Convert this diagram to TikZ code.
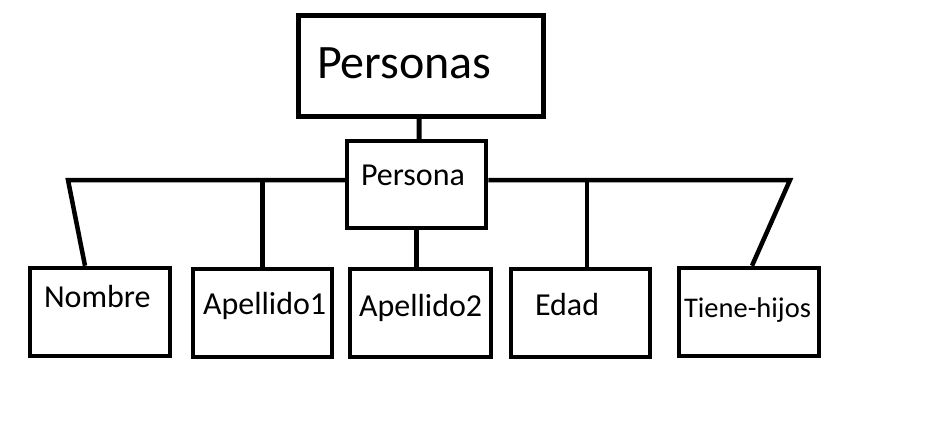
\documentclass[tikz,border=0pt]{standalone}
\usepackage{fontspec}
\setmainfont{Carlito}
\begin{document}
\begin{tikzpicture}[x=1bp,y=-1bp,
  box/.style={draw=black,line width=4.5bp,fill=white,inner sep=0pt},
  conn/.style={draw=black,line width=4.5bp,line cap=butt},
  lbl/.style={anchor=base west,inner sep=0pt,outer sep=0pt,text=black,font=\fontsize{32bp}{37bp}\selectfont}]
\useasboundingbox[fill=white] (0,0) rectangle (931,420);
% boxes
\node[box,line width=5bp,minimum width=245bp,minimum height=101bp] (Personas) at (420.5,65.5) {};
\node[box,minimum width=139bp,minimum height=87bp] (Persona) at (416.5,184.5) {};
\node[box,minimum width=140bp,minimum height=88bp] (Nombre) at (100,312) {};
\node[box,minimum width=139bp,minimum height=88bp] (Apellido1) at (262.5,313) {};
\node[box,minimum width=141bp,minimum height=88bp] (Apellido2) at (420.5,313) {};
\node[box,minimum width=139bp,minimum height=88bp] (Edad) at (580.5,313) {};
\node[box,minimum width=140bp,minimum height=88bp] (Tiene) at (749,312) {};
% connector points
\coordinate (L) at (68,180);
\coordinate (R) at (790,180);
% connectors
\draw[conn,line width=5bp] ([xshift=-1.5bp]Personas.south) -- ([xshift=2.5bp]Persona.north);
\draw[conn] ([xshift=-15bp]Nombre.north) -- (L) -- (L -| Persona.west);
\draw[conn] (Apellido1.north) -- (Apellido1.north |- L);
\draw[conn] (Persona.south) -- (Persona.south |- Apellido2.north);
\draw[conn] (R -| Persona.east) -- (R) -- ([xshift=3bp]Tiene.north);
\draw[conn] ([xshift=6.5bp]Edad.north) -- ([xshift=6.5bp]Edad.north |- R);
% texts
\node[lbl,font=\fontsize{48bp}{55bp}\selectfont] (tPersonas) at (317,78) {Personas};
\node[lbl] (tPersona) at (361,185) {Persona};
\node[lbl] (tNombre) at (44,307) {Nombre};
\node[lbl] (tApellido1) at (203,314) {Apellido1};
\node[lbl] (tApellido2) at (359,316) {Apellido2};
\node[lbl] (tEdad) at (535,315) {Edad};
\node[lbl,font=\fontsize{28.5bp}{33bp}\selectfont] (tTiene) at (684,317) {Tiene-hijos};
\end{tikzpicture}
\end{document}
